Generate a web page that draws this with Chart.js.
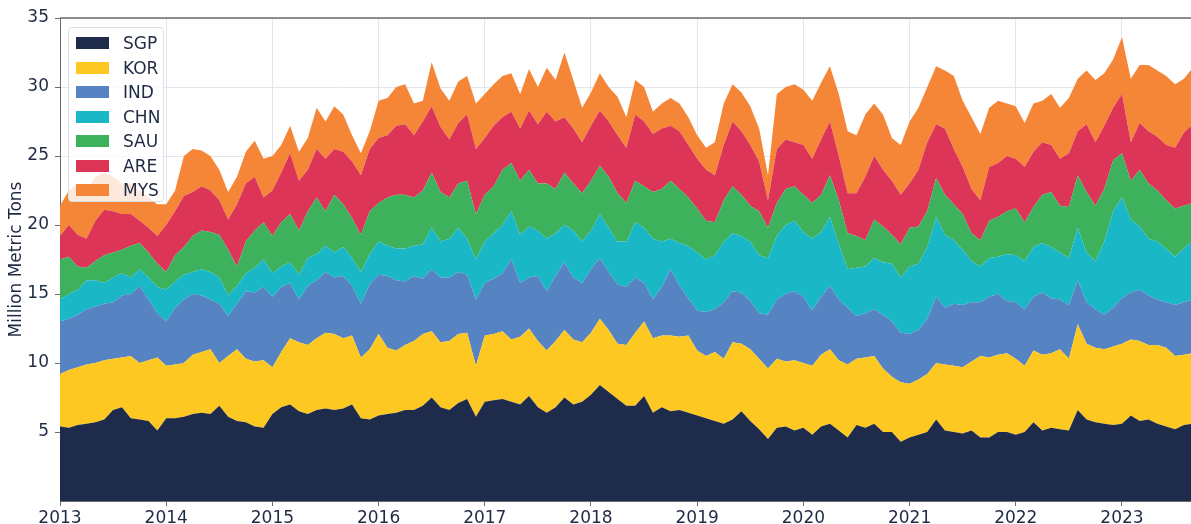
<!DOCTYPE html>
<html>
<head>
<meta charset="utf-8">
<script src="https://cdn.jsdelivr.net/npm/chart.js@4"></script>
<style>
    body { margin: 0; background: #fff; }
    #wrap { position: relative; width: 1191px; height: 524px; }
    #legend {
        position: absolute; left: 68px; top: 27px; width: 96px; height: 175px;
        background: rgba(255, 255, 255, 0.82); border: 1px solid #dcdce4; border-radius: 4px;
        box-sizing: border-box; font-family: "DejaVu Sans", sans-serif; font-size: 17px; color: #1f2a44;
    }
    .item { position: absolute; left: 7px; height: 20px; }
    .swatch { position: absolute; left: 0; top: 4px; width: 33px; height: 12px; }
    .label { position: absolute; left: 47px; top: 0; line-height: 20px; white-space: nowrap; }
</style>
</head>
<body>
<div id="wrap">
    <canvas id="chart" width="1191" height="524"></canvas>
    <div id="legend"></div>
</div>
<script>
// monthly series, Jan 2013 .. Sep 2023 (million metric tons)
const startYear = 2013;
const countries = ['SGP', 'KOR', 'IND', 'CHN', 'SAU', 'ARE', 'MYS'];
const colors = ['#1f2b4a', '#fdc821', '#5683c1', '#1ab7c7', '#3db15b', '#dc3558', '#f58638'];

const sgp = [5.4,5.3,5.5,5.6,5.7,5.9,6.6,6.8,6.0,5.9,5.8,5.1,6.0,6.0,6.1,6.3,6.4,6.3,6.9,6.1,5.8,5.7,5.4,
    5.3,6.3,6.8,7.0,6.5,6.3,6.6,6.7,6.6,6.7,7.0,6.0,5.9,6.2,6.3,6.4,6.6,6.6,6.9,7.5,6.8,
    6.6,7.1,7.4,6.1,7.2,7.3,7.4,7.2,7.0,7.6,6.8,6.4,6.8,7.5,7.0,7.2,7.7,8.4,7.9,7.4,6.9,6.9,
    7.6,6.4,6.8,6.5,6.6,6.4,6.2,6.0,5.8,5.6,5.9,6.5,5.8,5.2,4.5,5.3,5.4,5.1,5.3,4.8,5.4,
    5.6,5.1,4.6,5.5,5.3,5.6,5.0,5.0,4.3,4.6,4.8,5.0,5.9,5.1,5.0,4.9,5.1,4.6,4.6,5.0,5.0,
    4.8,5.0,5.7,5.1,5.3,5.2,5.1,6.6,5.9,5.7,5.6,5.5,5.6,6.2,5.8,5.9,5.6,5.4,5.2,5.5,5.6];
const kor = [3.8,4.2,4.2,4.3,4.3,4.3,3.7,3.6,4.5,4.1,4.4,5.3,3.8,3.9,3.9,4.3,4.4,4.7,3.1,4.4,5.2,4.6,4.7,
    4.9,3.4,4.0,4.8,5.0,5.0,5.2,5.5,5.5,5.1,5.0,4.4,5.1,5.9,4.8,4.5,4.7,5.0,5.2,4.8,4.7,
    5.0,5.0,4.8,3.7,4.8,4.8,4.9,4.5,4.9,4.9,4.8,4.5,4.8,4.9,4.7,4.3,4.5,4.8,4.5,4.0,4.4,5.3,
    5.4,5.4,5.2,5.5,5.3,5.6,4.7,4.5,5.0,4.7,5.6,4.9,5.2,5.1,5.1,5.0,4.7,5.1,4.7,5.0,5.2,
    5.4,5.1,5.3,4.8,5.1,4.9,4.6,4.0,4.3,3.9,4.0,4.2,4.1,4.8,4.8,4.8,5.0,5.9,5.8,5.6,5.7,
    5.5,4.8,5.2,5.5,5.4,5.8,5.2,6.2,5.5,5.4,5.4,5.7,5.8,5.5,5.8,5.4,5.7,5.7,5.3,5.1,5.1];
const ind = [3.8,3.7,3.8,4.0,4.1,4.1,4.1,4.5,4.5,5.6,4.4,3.2,3.2,4.1,4.6,4.4,4.1,3.6,4.3,2.9,3.3,4.9,5.0,
    5.3,5.1,4.7,4.0,3.1,4.3,4.2,4.4,4.1,4.5,3.6,3.9,4.7,4.3,5.2,5.1,4.6,4.7,4.0,4.5,4.7,
    4.6,4.5,4.2,4.8,3.8,4.0,4.2,5.8,3.9,3.7,4.7,4.3,4.7,4.9,4.5,4.3,4.6,4.4,4.2,4.3,4.2,4.0,
    2.8,2.8,3.5,4.8,3.7,2.7,2.9,3.2,3.1,4.1,3.7,3.7,3.5,3.3,3.9,4.3,4.9,5.0,4.8,4.0,4.2,
    4.6,4.4,4.1,3.1,3.2,3.4,3.9,4.0,3.6,3.6,3.6,4.0,4.8,4.1,4.5,4.5,4.3,3.9,4.4,4.4,3.8,
    4.1,4.1,3.9,4.5,4.0,3.6,3.9,3.2,3.0,2.8,2.5,2.8,3.3,3.4,3.7,3.6,3.3,3.3,3.7,3.8,3.9];
const chn = [1.6,1.8,1.8,2.1,1.9,1.5,1.8,1.6,1.2,1.2,1.6,1.9,2.3,1.9,1.8,1.6,1.9,2.0,1.9,1.5,1.3,1.3,1.8,
    2.0,1.7,1.5,1.5,1.8,2.0,1.9,1.9,1.8,2.1,2.0,2.3,2.2,2.4,2.2,2.3,2.4,2.2,2.5,3.0,2.6,
    2.8,3.2,2.6,2.9,3.0,3.3,3.5,3.5,3.5,3.7,3.3,3.8,3.1,2.7,3.4,3.0,2.8,3.2,3.2,3.1,3.3,4.0,
    4.0,4.4,3.3,2.2,3.1,3.8,4.2,3.8,3.9,4.4,4.2,4.1,4.3,4.2,4.1,4.6,5.0,5.1,4.7,5.2,4.7,
    5.0,4.0,2.8,3.5,3.4,3.7,3.8,4.2,4.0,4.9,4.8,5.2,5.8,5.3,4.6,4.0,3.0,2.6,2.8,2.7,3.4,
    3.4,3.5,3.6,3.6,3.7,3.4,3.4,3.8,3.6,3.5,5.3,7.0,7.3,5.3,4.6,4.1,4.2,3.9,3.5,3.9,4.3];
const sau = [2.9,2.7,1.7,0.9,1.4,2.0,1.8,1.7,2.3,1.9,1.8,1.7,1.3,1.9,2.0,2.6,2.8,2.9,3.1,3.3,1.4,2.3,2.7,
    2.7,2.7,3.2,3.5,3.2,3.4,4.1,2.5,4.2,3.1,2.9,2.7,3.1,2.8,3.5,3.9,3.9,3.5,3.9,4.0,3.6,
    3.0,3.2,4.2,3.3,3.4,3.4,4.0,3.5,3.9,4.1,3.4,4.0,3.2,3.8,3.4,3.5,3.6,3.5,3.7,3.5,2.8,3.0,
    3.0,3.4,3.8,4.2,3.9,3.5,3.2,2.8,2.4,3.0,3.4,3.0,2.6,3.2,2.2,2.4,2.6,2.5,2.7,2.6,2.7,
    3.0,3.2,2.6,2.3,1.9,2.8,2.6,2.1,2.4,2.8,2.7,2.6,2.8,2.9,2.6,2.6,2.0,1.9,2.7,2.9,3.1,
    3.4,2.8,2.9,3.5,4.0,3.4,3.7,3.8,4.4,4.0,3.8,3.7,3.2,2.8,4.1,4.0,3.7,3.5,3.5,3.1,2.7];
const are = [1.7,2.3,2.3,2.1,2.9,3.3,3.0,2.6,2.3,1.6,1.8,2.0,3.4,3.2,3.7,3.2,3.2,3.0,2.5,2.2,4.5,4.2,3.9,
    1.8,3.3,3.6,4.4,3.6,3.0,3.5,3.8,3.3,3.8,4.1,4.3,4.5,4.7,4.5,5.0,5.1,4.5,5.0,4.8,4.7,
    4.2,4.4,4.8,4.7,4.1,4.4,3.8,3.7,3.8,4.3,4.3,5.2,4.9,4.0,4.0,3.7,4.0,4.0,4.0,4.2,4.0,4.8,
    4.7,4.2,4.4,4.0,4.2,3.8,3.6,3.7,3.4,4.0,4.7,4.6,4.4,3.6,2.0,3.9,3.6,3.2,3.6,3.2,4.0,
    3.9,3.2,2.9,3.1,4.6,4.6,4.1,3.9,3.6,3.2,4.1,5.0,3.9,4.8,4.0,3.4,3.2,2.9,3.9,3.9,4.0,
    3.6,4.0,4.0,3.8,3.4,3.4,3.9,3.2,4.9,4.6,4.6,3.8,4.3,2.8,3.4,3.8,3.9,4.0,4.4,5.3,5.7];
const mys = [2.2,2.5,3.7,3.5,3.2,2.7,2.5,2.2,2.2,2.2,2.2,2.3,1.5,1.5,2.9,3.1,2.6,2.5,2.2,2.0,2.0,2.3,2.6,
    2.8,2.5,2.0,2.0,2.1,2.3,3.0,2.7,3.1,2.7,1.9,1.6,1.3,2.7,2.7,2.8,2.9,2.3,1.5,3.2,2.8,
    2.8,3.0,2.8,3.3,3.2,3.0,3.0,2.8,2.5,3.0,2.7,3.2,3.0,4.7,3.5,2.5,2.4,2.7,2.5,2.8,2.2,2.5,
    2.5,1.6,1.8,2.0,2.0,2.0,1.7,1.6,2.4,3.0,2.7,2.8,2.8,2.4,1.8,4.0,3.8,4.2,4.0,4.2,4.1,
    4.0,4.5,4.5,4.2,4.5,3.8,4.0,3.1,3.6,4.5,4.5,4.0,4.2,4.2,5.3,4.8,5.2,4.8,4.3,4.5,3.8,
    3.8,3.2,3.5,3.0,3.7,3.7,4.0,3.8,3.9,4.5,3.8,3.5,4.1,4.6,4.2,4.8,4.8,5.0,4.6,3.9,4.1];

const yTicks = [5, 10, 15, 20, 25, 30, 35];
const seriesValues = [sgp, kor, ind, chn, sau, are, mys];

const textColor = '#1f2a44';
const gridColor = '#e4e4ee';
const spineColor = '#6b6b6b';

document.addEventListener('DOMContentLoaded', function() {
    // legend box, drawn as html over the plot
    const legendEl = document.getElementById('legend');
    countries.forEach((name, i) => {
        const item = document.createElement('div');
        item.className = 'item';
        item.style.top = (5 + i * 24.5) + 'px';
        item.innerHTML = `<span class="swatch" style="background:${colors[i]}"></span><span class="label">${name}</span>`;
        legendEl.appendChild(item);
    });

    const datasets = countries.map((name, i) => ({
        label: name,
        data: seriesValues[i].map((v, m) => ({ x: startYear + m / 12, y: v })),
        backgroundColor: colors[i],
        borderWidth: 0,
        pointRadius: 0,
        tension: 0,
        fill: i === 0 ? 'origin' : '-1'
    }));

    // top spine
    const topSpine = {
        id: 'topSpine',
        afterDraw(chart) {
            const { ctx, chartArea } = chart;
            ctx.save();
            ctx.strokeStyle = spineColor;
            ctx.lineWidth = 1.5;
            ctx.beginPath();
            ctx.moveTo(chartArea.left, chartArea.top);
            ctx.lineTo(chartArea.right, chartArea.top);
            ctx.stroke();
            ctx.restore();
        }
    };

    new Chart(document.getElementById('chart'), {
        type: 'line',
        data: { datasets: datasets },
        plugins: [topSpine],
        options: {
            responsive: false,
            animation: false,
            layout: { padding: { top: 18, right: 0, left: 0, bottom: 0 } },
            plugins: {
                legend: { display: false },
                tooltip: { enabled: false }
            },
            scales: {
                x: {
                    type: 'linear',
                    min: 2013,
                    max: 2023.65,
                    afterFit: scale => { scale.height = 23; },
                    border: { color: spineColor, width: 1 },
                    grid: { color: gridColor, tickLength: 5, tickColor: spineColor },
                    ticks: {
                        stepSize: 1,
                        includeBounds: false,
                        padding: 2,
                        color: textColor,
                        font: { family: 'DejaVu Sans', size: 17 },
                        maxRotation: 0,
                        callback: v => Number.isInteger(v) ? String(v) : ''
                    }
                },
                y: {
                    stacked: true,
                    min: 0,
                    max: 35,
                    afterFit: scale => { scale.width = 60; },
                    afterBuildTicks: scale => { scale.ticks = yTicks.map(v => ({ value: v })); },
                    border: { color: spineColor, width: 1 },
                    grid: { color: gridColor, tickLength: 5, tickColor: spineColor },
                    title: {
                        display: true,
                        text: 'Million Metric Tons',
                        color: textColor,
                        font: { family: 'DejaVu Sans', size: 17 },
                        padding: { top: 6, bottom: 0 }
                    },
                    ticks: {
                        padding: 6,
                        color: textColor,
                        font: { family: 'DejaVu Sans', size: 17 }
                    }
                }
            }
        }
    });
});
</script>
</body>
</html>
